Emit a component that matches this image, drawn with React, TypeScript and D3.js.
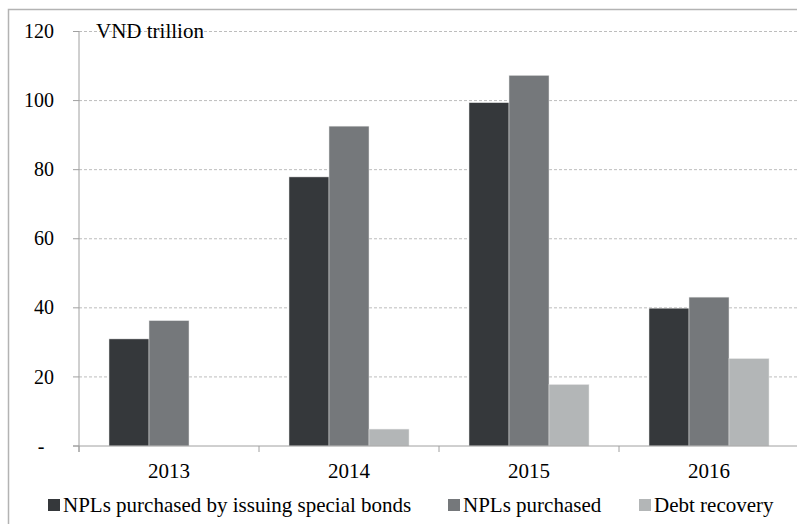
import React from "react";
import * as d3 from "d3";

const years = ["2013", "2014", "2015", "2016"];
const seriesNames = ["NPLs purchased by issuing special bonds", "NPLs purchased", "Debt recovery"];
const specialBonds = [31.0, 77.9, 99.4, 39.9];
const nplsPurchased = [36.3, 92.6, 107.3, 43.1];
const debtRecovery = [0, 4.9, 17.8, 25.3];
const yTicks = [0, 20, 40, 60, 80, 100, 120];
const colors = ["#35383b", "#75787b", "#b3b6b7"];

export default function App() {
  const W = 797, H = 524;
  const left = 79, right = 799, top = 31.5, bottom = 446;
  const x = d3.scaleBand<string>().domain(years).range([left, right]).paddingInner(0).paddingOuter(0);
  const inner = d3.scaleBand<number>().domain([0, 1, 2]).range([30, 150]).padding(0);
  const y = d3.scaleLinear().domain([0, 120]).range([bottom, top]);
  const series = [specialBonds, nplsPurchased, debtRecovery];
  const font = "'Liberation Serif'";
  const legendX = [48, 448, 639];
  const fs = 21;
  const tfs = 20;

  return (
    <svg width={W} height={H} style={{ position: "absolute", left: 0, top: 0, background: "#fff" }}>
      <rect x={8.5} y={9.5} width={900} height={600} fill="none" stroke="#b3b3b3" strokeWidth={1.5} />
      {yTicks.filter(t => t > 0).map(t => (
        <line key={"g" + t} x1={left} x2={right} y1={y(t)} y2={y(t)} stroke="#bdbdbd" strokeDasharray="3,2" strokeWidth={1} />
      ))}
      {series.map((vals, si) =>
        vals.map((v, i) =>
          v > 0 ? (
            <rect key={si + "-" + i} x={(x(years[i]) as number) + (inner(si) as number)} y={y(v)} width={inner.bandwidth()} height={y(0) - y(v)} fill={colors[si]} stroke="#e6e6e6" strokeWidth={0.5} />
          ) : null
        )
      )}
      <line x1={left} x2={left} y1={top} y2={bottom + 6} stroke="#a0a0a0" strokeWidth={1} />
      <line x1={left - 6} x2={right} y1={bottom} y2={bottom} stroke="#a0a0a0" strokeWidth={1} />
      {yTicks.map(t => (
        <line key={"t" + t} x1={left - 6} x2={left} y1={y(t)} y2={y(t)} stroke="#a0a0a0" strokeWidth={1} />
      ))}
      {years.map(yr => (
        <line key={"xt" + yr} x1={(x(yr) as number)} x2={(x(yr) as number)} y1={bottom} y2={bottom + 6} stroke="#a0a0a0" strokeWidth={1} />
      ))}
      {yTicks.map(t => (
        <text key={"l" + t} x={t === 0 ? 41 : 54} y={y(t)} dy="0.33em" textAnchor={t === 0 ? "middle" : "end"} fontSize={tfs} fill="#000" style={{ fontFamily: font }}>
          {t === 0 ? "-" : t}
        </text>
      ))}
      {years.map(yr => (
        <text key={"yl" + yr} x={(x(yr) as number) + x.bandwidth() / 2} y={478} textAnchor="middle" fontSize={fs} fill="#000" style={{ fontFamily: font }}>{yr}</text>
      ))}
      <text x={96} y={38} fontSize={fs} fill="#000" style={{ fontFamily: font }}>VND trillion</text>
      {seriesNames.map((name, i) => (
        <g key={"lg" + i}>
          <rect x={legendX[i]} y={499} width={12} height={12} fill={colors[i]} />
          <text x={legendX[i] + 15} y={512} fontSize={fs} fill="#000" style={{ fontFamily: font }}>{name}</text>
        </g>
      ))}
    </svg>
  );
}
